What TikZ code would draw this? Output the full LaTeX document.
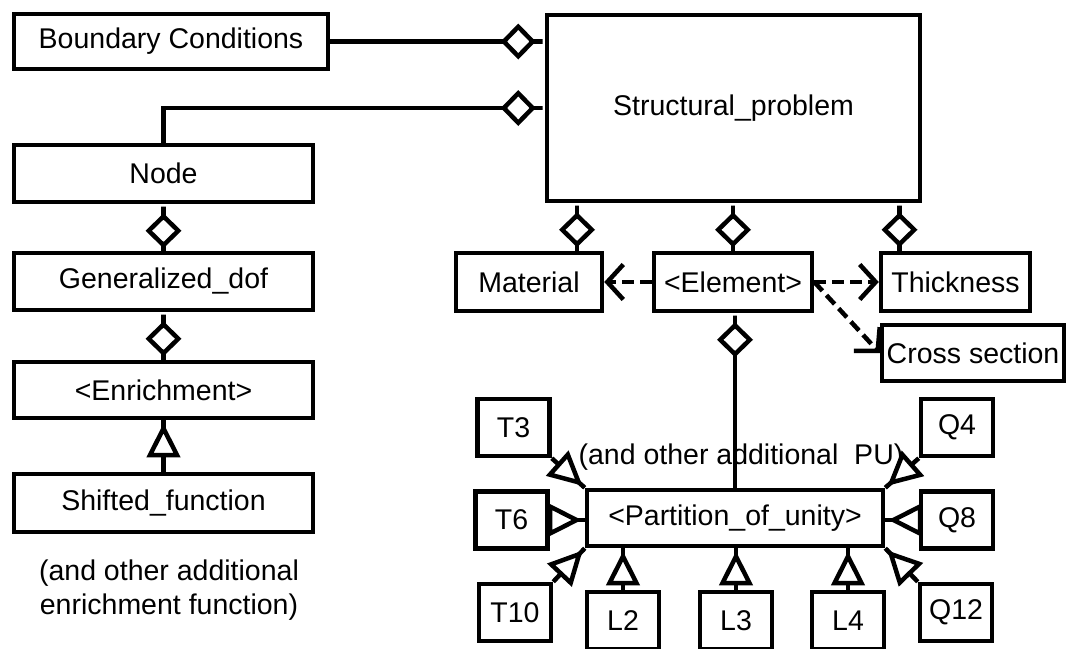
\documentclass[tikz,border=0pt]{standalone}
\usepackage{fontspec}
\setmainfont{Liberation Sans}
\usetikzlibrary{arrows.meta}

\begin{document}
\begin{tikzpicture}[x = 1pt, y = -1pt, line width = 4.5pt,
	box/.style = {draw, rectangle, inner sep = 0pt, font = \fontsize{28.5}{34}\selectfont},
	pbox/.style = {box, minimum width = 72pt, minimum height = 57pt},
	note/.style = {inner sep = 0pt, align = center, font = \fontsize{28.5}{34}\selectfont},
	agg/.style = {-{Diamond[fill=white, length=35pt, width=36pt, sep=0pt] Rectangle[length=9pt, width=4.5pt, sep=0pt]}},
	inh/.style = {-{Triangle[fill=white, length=34pt, width=33pt, sep=0pt] Rectangle[length=3pt, width=4.5pt, sep=0pt]}},
	dep/.style = {-{Straight Barb[length=16pt, width=35pt]}, dash pattern = on 12pt off 6pt}]
	\useasboundingbox (0,0) rectangle (1067,648);
	% left column
	\node[box, minimum width = 314pt, minimum height = 55pt] (bc) at (171,41.5) {Boundary Conditions};
	\node[box, minimum width = 299pt, minimum height = 57pt] (nd) at (163.5,173.5) {Node};
	\node[box, minimum width = 299pt, minimum height = 57pt] (gdof) at (163.5,281.5) {Generalized\_dof};
	\node[box, minimum width = 299pt, minimum height = 56pt] (enr) at (163.5,390) {<Enrichment>};
	\node[box, minimum width = 299pt, minimum height = 58pt] (shf) at (163.5,503) {Shifted\_function};
	\node[note] (enrnote) at (169,590) {(and other additional\\enrichment function)};
	% problem and its parts
	\node[box, minimum width = 373pt, minimum height = 186pt] (sp) at (733.5,108) {Structural\_problem};
	\node[box, minimum width = 146pt, minimum height = 58pt] (mat) at (529,282) {Material};
	\node[box, minimum width = 158pt, minimum height = 58pt] (elem) at (733,282) {<Element>};
	\node[box, minimum width = 149pt, minimum height = 58pt] (thick) at (955.5,282) {Thickness};
	\node[box, minimum width = 182pt, minimum height = 56pt] (cross) at (973,353) {Cross section};
	\node[box, minimum width = 296pt, minimum height = 56pt] (pu) at (735,518) {<Partition\_of\_unity>};
	\node[note] (punote) at (741,457) {(and other additional~~PU)};
	% shape functions
	\node[pbox] (T3) at (513.5,427.5) {T3};
	\node[pbox] (T6) at (511.5,520) {T6};
	\node[pbox] (T10) at (515,612.5) {T10};
	\node[pbox] (L2) at (623,620.5) {L2};
	\node[pbox] (L3) at (736,620.5) {L3};
	\node[pbox] (L4) at (848,620.5) {L4};
	\node[pbox] (Q4) at (957,427.5) {Q4};
	\node[pbox] (Q8) at (957,520) {Q8};
	\node[pbox] (Q12) at (956,612.5) {Q12};
	% aggregations
	\draw[agg] (bc.east) -- (bc.east -| sp.west);
	\draw[agg] (nd.north) |- (sp.west);
	\draw[agg] (gdof.north) -- (nd.south);
	\draw[agg] (enr.north) -- (gdof.south);
	\draw[agg] ([xshift = 48pt]mat.north) -- ([xshift = 48pt]mat.north |- sp.south);
	\draw[agg] (elem.north) -- (elem.north |- sp.south);
	\draw[agg] ([xshift = -56pt]thick.north) -- ([xshift = -56pt]thick.north |- sp.south);
	\draw[agg] (pu.north) -- (pu.north |- elem.south);
	% dependencies
	\draw[dep] (elem.west) -- (mat.east);
	\draw[dep] (elem.east) -- (thick.west);
	\draw[dep] (elem.east) -- (cross.west);
	% inheritance
	\draw[inh] (shf.north) -- (enr.south);
	\draw[inh] (T3.south east) -- (pu.north west);
	\draw[inh] (T6.east) -- (T6.east -| pu.west);
	\draw[inh] (T10.north east) -- (pu.south west);
	\draw[inh] (L2.north) -- (L2.north |- pu.south);
	\draw[inh] (L3.north) -- (L3.north |- pu.south);
	\draw[inh] (L4.north) -- (L4.north |- pu.south);
	\draw[inh] (Q4.south west) -- (pu.north east);
	\draw[inh] (Q8.west) -- (Q8.west -| pu.east);
	\draw[inh] (Q12.north west) -- (pu.south east);
\end{tikzpicture}
\end{document}
